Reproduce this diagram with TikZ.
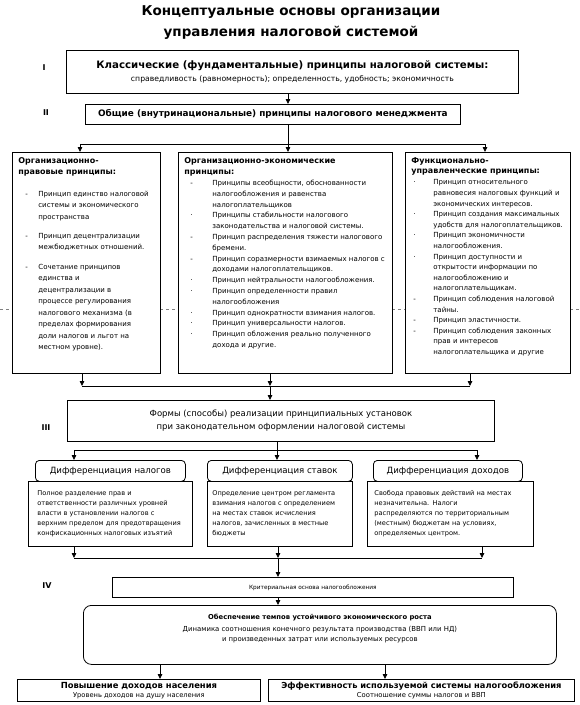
\documentclass[tikz,border=0pt]{standalone}
\usepackage{fontspec}
\setmainfont{DejaVu Sans}
\usetikzlibrary{arrows.meta}

\newlength{\dashind}
\newlength{\txtind}
\newcommand{\pitem}[2]{\par\hangindent=\txtind\hangafter=1\noindent\hbox to\txtind{\hspace{\dashind}#1\hfil}#2}

\tikzset{
  box/.style={draw, line width=0.8pt, anchor=north west, inner sep=0pt, align=center},
  colbox/.style={draw, line width=0.8pt, anchor=north west, inner xsep=6pt, inner ysep=5pt},
  headbox/.style={draw, line width=0.8pt, anchor=north west, rounded corners=4pt, inner sep=0pt, minimum height=21pt, font=\fontsize{8.6}{10}\selectfont},
  detail/.style={draw, line width=0.8pt, anchor=north west, align=left, minimum height=65pt, font=\fontsize{6.6}{10}\selectfont},
  lvl/.style={font=\bfseries\fontsize{8}{9}\selectfont},
  wire/.style={line width=0.8pt},
  tip/.style={line width=0.8pt, -{Triangle[length=5pt,width=4.5pt]}},
}

\begin{document}
\begin{tikzpicture}[x=1pt,y=-1pt]
\useasboundingbox (0,0) rectangle (580,705);

% heading
\node[font=\bfseries\fontsize{13.5}{21}\selectfont, align=center] (heading) at (291,23) {Концептуальные основы организации\\управления налоговой системой};

% level marks
\node[lvl] (lvlI) at (44,68) {I};
\node[lvl] (lvlII) at (46,113) {II};
\node[lvl] (lvlIII) at (46,428) {III};
\node[lvl] (lvlIV) at (47,586) {IV};

% scan fold line
\draw[dashed, line width=0.5pt, gray] (0,309) -- (12,309) (160,309) -- (178,309) (392,309) -- (405,309) (570,309) -- (580,309);

% level I and II
\node[box, minimum width=452pt, minimum height=43pt] (classic) at (66,50)
  {{\bfseries\fontsize{10.2}{13}\selectfont Классические (фундаментальные) принципы налоговой системы:}\\[1pt]
   {\fontsize{7.7}{10}\selectfont справедливость (равномерность); определенность, удобность; экономичность}};
\node[box, minimum width=375pt, minimum height=20pt, font=\bfseries\fontsize{8.9}{10}\selectfont] (general) at (85,104)
  {Общие (внутринациональные) принципы налогового менеджмента};

% three groups of principles
\node[colbox] (legal) at (12,152) {\parbox[t][211pt][t]{136pt}{\raggedright\fontsize{7}{11.5}\selectfont
  \setlength{\dashind}{7pt}\setlength{\txtind}{20pt}%
  {\bfseries\fontsize{8}{11.5}\selectfont Организационно-\\правовые принципы:}\par\vspace{10pt}
  \pitem{-}{Принцип единство налоговой\newline системы и экономического\newline пространства}\par\vspace{7.5pt}
  \pitem{-}{Принцип децентрализации\newline межбюджетных отношений.}\par\vspace{8pt}
  \pitem{-}{Сочетание принципов\newline единства и\newline децентрализации в\newline процессе регулирования\newline налогового механизма (в\newline пределах формирования\newline доли налогов и льгот на\newline местном уровне).}}};
\node[colbox] (econ) at (178,152) {\parbox[t][211pt][t]{202pt}{\raggedright\fontsize{7}{10.8}\selectfont
  \setlength{\dashind}{6pt}\setlength{\txtind}{28pt}%
  {\bfseries\fontsize{8}{10.3}\selectfont Организационно-экономические\\принципы:}\par\vspace{0.5pt}
  \pitem{-}{Принципы всеобщности, обоснованности\newline налогообложения и равенства\newline налогоплательщиков}
  \pitem{·}{Принципы стабильности налогового\newline законодательства и налоговой системы.}
  \pitem{-}{Принцип распределения тяжести налогового\newline бремени.}
  \pitem{-}{Принцип соразмерности взимаемых налогов с\newline доходами налогоплательщиков.}
  \pitem{·}{Принцип нейтральности налогообложения.}
  \pitem{·}{Принцип определенности правил\newline налогообложения}
  \pitem{·}{Принцип однократности взимания налогов.}
  \pitem{·}{Принцип универсальности налогов.}
  \pitem{·}{Принцип обложения реально полученного\newline дохода и другие.}}};
\node[colbox] (func) at (405,152) {\parbox[t][211pt][t]{153pt}{\raggedright\fontsize{7}{10.6}\selectfont
  \setlength{\dashind}{2pt}\setlength{\txtind}{22pt}%
  {\bfseries\fontsize{8}{10.3}\selectfont Функционально-\\управленческие принципы:}\par\vspace{0.5pt}
  \pitem{·}{Принцип относительного\newline равновесия налоговых функций и\newline экономических интересов.}
  \pitem{·}{Принцип создания максимальных\newline удобств для налогоплательщиков.}
  \pitem{·}{Принцип экономичности\newline налогообложения.}
  \pitem{·}{Принцип доступности и\newline открытости информации по\newline налогообложению и\newline налогоплательщикам.}
  \pitem{-}{Принцип соблюдения налоговой\newline тайны.}
  \pitem{-}{Принцип эластичности.}
  \pitem{-}{Принцип соблюдения законных\newline прав и интересов\newline налогоплательщика и другие}}};

\coordinate (busA) at (288,144);
\coordinate (busAL) at (80,144);
\coordinate (busAR) at (485,144);
\draw[tip] (classic.south -| busA) -- (general.north -| busA);
\draw[wire] (general.south -| busA) -- (busA);
\draw[wire] (busAL) -- (busAR);
\draw[tip] (busAL) -- (busAL |- legal.north);
\draw[tip] (busA) -- (busA |- econ.north);
\draw[tip] (busAR) -- (busAR |- func.north);

% level III
\node[box, minimum width=427pt, minimum height=41pt, font=\fontsize{8.5}{13}\selectfont] (forms) at (67,400)
  {Формы (способы) реализации принципиальных установок\\при законодательном оформлении налоговой системы};

\coordinate (busB) at (270,386);
\coordinate (busBL) at (82,386);
\coordinate (busBR) at (470,386);
\draw[tip] (busBL |- legal.south) -- (busBL);
\draw[tip] (busB |- econ.south) -- (busB);
\draw[tip] (busBR |- func.south) -- (busBR);
\draw[wire] (busBL) -- (busBR);
\draw[tip] (busB) -- (busB |- forms.north);

% differentiation
\node[headbox, minimum width=150pt] (difTax) at (35,460) {Дифференциация налогов};
\node[headbox, minimum width=145pt] (difRate) at (207,460) {Дифференциация ставок};
\node[headbox, minimum width=149pt] (difIncome) at (373,460) {Дифференциация доходов};
\node[detail, minimum width=164pt, text width=146pt] (detTax) at (28,481)
  {Полное разделение прав и\\ответственности различных уровней\\власти в установлении налогов с\\верхним пределом для предотвращения\\конфискационных налоговых изъятий};
\node[detail, minimum width=145pt, text width=135pt] (detRate) at (207,481)
  {Определение центром регламента\\взимания налогов с определением\\на местах ставок исчисления\\налогов, зачисленных в местные\\бюджеты};
\node[detail, minimum width=166pt, text width=152pt] (detIncome) at (367,481)
  {Свобода правовых действий на местах\\незначительна. Налоги\\распределяются по территориальным\\(местным) бюджетам на условиях,\\определяемых центром.};

\coordinate (busC) at (277,450);
\coordinate (busCL) at (74,450);
\coordinate (busCR) at (477,450);
\draw[wire] (forms.south -| busC) -- (busC);
\draw[wire] (busCL) -- (busCR);
\draw[tip] (busCL) -- (busCL |- difTax.north);
\draw[tip] (busC) -- (busC |- difRate.north);
\draw[tip] (busCR) -- (busCR |- difIncome.north);

% level IV
\node[box, minimum width=401pt, minimum height=20pt, font=\fontsize{5.8}{8}\selectfont] (crit) at (112,577)
  {Критериальная основа налогообложения};
\node[box, minimum width=473pt, minimum height=59pt, rounded corners=8pt, font=\fontsize{6.9}{10.5}\selectfont] (growth) at (83,605)
  {{\bfseries\fontsize{6.8}{11}\selectfont Обеспечение темпов устойчивого экономического роста}\\[1pt]
   Динамика соотношения конечного результата производства (ВВП или НД)\\и произведенных затрат или используемых ресурсов\\[3pt]};
\node[box, minimum width=243pt, minimum height=22pt, font=\fontsize{6.7}{9}\selectfont] (income) at (17,679)
  {{\bfseries\fontsize{8.4}{9.5}\selectfont Повышение доходов населения}\\Уровень доходов на душу населения};
\node[box, minimum width=306pt, minimum height=22pt, font=\fontsize{6.8}{9}\selectfont] (effect) at (268,679)
  {{\bfseries\fontsize{8.3}{9.5}\selectfont Эффективность используемой системы налогообложения}\\Соотношение суммы налогов и ВВП};

\coordinate (busD) at (278,558);
\coordinate (busDL) at (74,558);
\coordinate (busDR) at (482,558);
\coordinate (dropL) at (160,670);
\coordinate (dropR) at (385,670);
\draw[tip] (busDL |- detTax.south) -- (busDL);
\draw[tip] (busD |- detRate.south) -- (busD);
\draw[tip] (busDR |- detIncome.south) -- (busDR);
\draw[wire] (busDL) -- (busDR);
\draw[tip] (busD) -- (busD |- crit.north);
\draw[tip] (crit.south -| busD) -- (growth.north -| busD);
\draw[tip] (growth.south -| dropL) -- (income.north -| dropL);
\draw[tip] (growth.south -| dropR) -- (effect.north -| dropR);
\end{tikzpicture}
\end{document}
